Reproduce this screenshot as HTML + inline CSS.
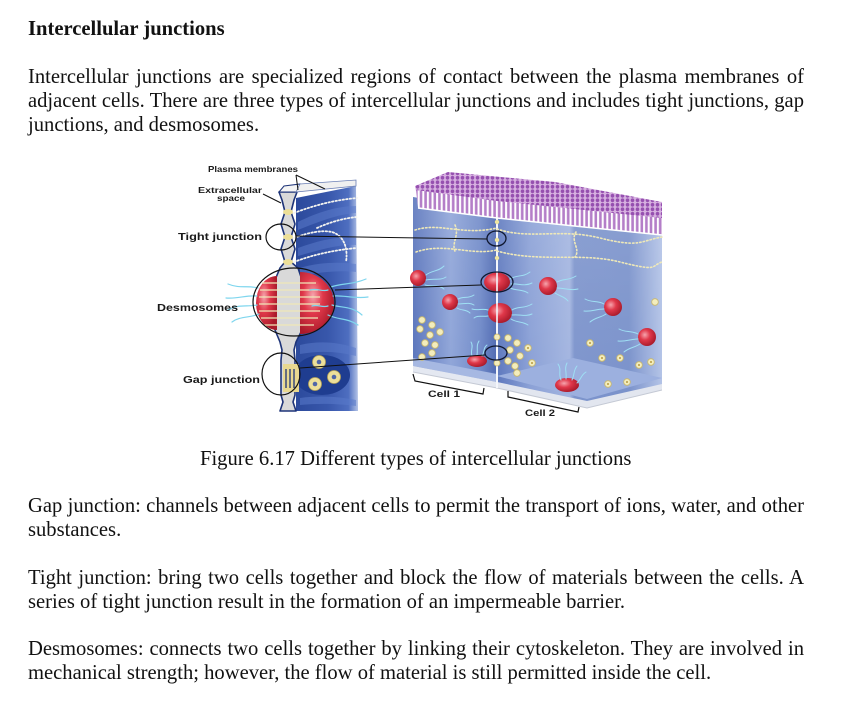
<!DOCTYPE html>
<html>
<head>
<meta charset="utf-8">
<style>
html,body{margin:0;padding:0;background:#fff;}
body{width:852px;height:705px;position:relative;overflow:hidden;font-family:"Liberation Serif","Times New Roman",serif;color:#111;}
.l{position:absolute;left:28px;width:776px;font-size:20.6px;line-height:24px;white-space:nowrap;}
.j{text-align:justify;text-align-last:justify;}
.h{font-weight:bold;}
svg{position:absolute;left:0;top:0;}
</style>
</head>
<body>
<div class="l h" style="top:17px">Intercellular junctions</div>
<div class="l j" style="top:65px">Intercellular junctions are specialized regions of contact between the plasma membranes of</div>
<div class="l j" style="top:89px">adjacent cells. There are three types of intercellular junctions and includes tight junctions, gap</div>
<div class="l" style="top:113px">junctions, and desmosomes.</div>

<div class="l" style="top:447px;left:200px;width:440px">Figure 6.17 Different types of intercellular junctions</div>

<div class="l j" style="top:494px">Gap junction: channels between adjacent cells to permit the transport of ions, water, and other</div>
<div class="l" style="top:518px">substances.</div>
<div class="l j" style="top:566px">Tight junction: bring two cells together and block the flow of materials between the cells. A</div>
<div class="l" style="top:590px">series of tight junction result in the formation of an impermeable barrier.</div>
<div class="l j" style="top:637px">Desmosomes: connects two cells together by linking their cytoskeleton. They are involved in</div>
<div class="l" style="top:661px">mechanical strength; however, the flow of material is still permitted inside the cell.</div>

<svg width="852" height="705" viewBox="0 0 852 705" xmlns="http://www.w3.org/2000/svg">
<defs>
  <linearGradient id="c1" x1="413" y1="0" x2="497" y2="0" gradientUnits="userSpaceOnUse">
    <stop offset="0" stop-color="#5873bb"/>
    <stop offset="0.45" stop-color="#8ea4d8"/>
    <stop offset="0.8" stop-color="#6f89c8"/>
    <stop offset="1" stop-color="#4c67b0"/>
  </linearGradient>
  <linearGradient id="c2" x1="497" y1="0" x2="662" y2="0" gradientUnits="userSpaceOnUse">
    <stop offset="0" stop-color="#5c77bd"/>
    <stop offset="0.2" stop-color="#8aa0d6"/>
    <stop offset="0.44" stop-color="#a3b5e0"/>
    <stop offset="0.47" stop-color="#7d94cc"/>
    <stop offset="0.8" stop-color="#7a92cb"/>
    <stop offset="1" stop-color="#b3c3e7"/>
  </linearGradient>
  <linearGradient id="vfade" x1="0" y1="200" x2="0" y2="400" gradientUnits="userSpaceOnUse">
    <stop offset="0" stop-color="#ffffff" stop-opacity="0.12"/>
    <stop offset="1" stop-color="#ffffff" stop-opacity="0"/>
  </linearGradient>
  <linearGradient id="slab" x1="296" y1="0" x2="360" y2="0" gradientUnits="userSpaceOnUse">
    <stop offset="0" stop-color="#2c4a9c"/>
    <stop offset="0.5" stop-color="#3857ab"/>
    <stop offset="0.82" stop-color="#4e6ec0"/>
    <stop offset="1" stop-color="#c9d5ef"/>
  </linearGradient>
  <radialGradient id="red" cx="0.38" cy="0.38" r="0.65">
    <stop offset="0" stop-color="#f6a4ad"/>
    <stop offset="0.45" stop-color="#e0384a"/>
    <stop offset="1" stop-color="#a91a2a"/>
  </radialGradient>
  <pattern id="villi" x="0" y="0" width="4.6" height="10" patternUnits="userSpaceOnUse">
    <rect width="4.6" height="10" fill="#ffffff"/>
    <rect x="1.1" width="2.6" height="10" fill="#b47ec8"/>
  </pattern>
  <pattern id="tops" x="0" y="0" width="5" height="4.5" patternUnits="userSpaceOnUse">
    <rect width="5" height="4.5" fill="#d6b0e0"/>
    <ellipse cx="2.5" cy="2.3" rx="1.8" ry="1.9" fill="#9650b0"/>
  </pattern>
</defs>

<!-- ========== RIGHT BLOCK ========== -->
<polygon points="413,197 497,211 497,386 413,366" fill="url(#c1)"/>
<polygon points="497,211 662,221 662,388 587,406 497,386" fill="url(#c2)"/>
<polygon points="413,197 497,211 662,221 662,388 587,406 497,386 413,366" fill="url(#vfade)"/>
<polygon points="413,358 497,374 497,382 413,366" fill="#a6b8e2"/>
<polygon points="497,376 573,358 662,378 587,399" fill="#9cb0df"/>
<polygon points="413,366 497,382 497,388 413,372" fill="#e4e8f1"/>
<polygon points="497,382 587,401 662,384 662,390 587,408 497,388" fill="#e2e6ef"/>
<polyline points="413,372 497,388 587,408 662,390" fill="none" stroke="#c4c9d4" stroke-width="1"/>
<line x1="497" y1="212" x2="497" y2="388" stroke="#f4f6fb" stroke-width="2"/>
<!-- top purple face -->
<polygon points="415,186 448,172 555,182 662,202 662,219 497,202 416,191" fill="url(#tops)"/>
<!-- microvilli -->
<polygon points="416,190 497,201 662,218 662,235 497,218 418,208" fill="url(#villi)"/>
<polyline points="418,208 497,218 662,235" fill="none" stroke="#ffffff" stroke-width="1.5"/>

<g fill="none" stroke="#efe9b8" stroke-width="1.6" stroke-dasharray="1.4 2.2" stroke-linecap="round">
  <path d="M415,230 C440,222 462,236 497,228"/>
  <path d="M416,252 C445,242 470,256 497,250"/>
  <path d="M455,225 C460,236 450,244 456,253"/>
  <path d="M497,229 C530,240 560,228 600,238 S640,241 662,237"/>
  <path d="M497,251 C540,263 580,252 620,262 S650,266 662,262"/>
  <path d="M576,232 C570,241 581,249 575,257"/>
</g>

<g>
  <circle cx="418" cy="278" r="8" fill="url(#red)"/>
  <circle cx="450" cy="302" r="8" fill="url(#red)"/>
  <circle cx="548" cy="286" r="9" fill="url(#red)"/>
  <circle cx="613" cy="307" r="9" fill="url(#red)"/>
  <circle cx="647" cy="337" r="9" fill="url(#red)"/>
  <ellipse cx="477" cy="361" rx="10" ry="6" fill="url(#red)"/>
  <ellipse cx="567" cy="385" rx="12" ry="7" fill="url(#red)"/>
  <ellipse cx="497" cy="282" rx="13" ry="9.5" fill="url(#red)"/>
  <ellipse cx="500" cy="313" rx="12" ry="10" fill="url(#red)"/>
</g>
<line x1="497" y1="272" x2="497" y2="324" stroke="#f4f6fb" stroke-width="1.6"/>
<g fill="none" stroke="#9fe0f4" stroke-width="1" stroke-linecap="round">
  <path d="M426,275 C432,270 438,272 444,266"/><path d="M426,280 C434,278 440,281 446,277"/><path d="M425,285 C433,287 438,284 444,289"/>
  <path d="M458,299 C464,296 468,299 474,295"/><path d="M458,304 C464,304 469,302 474,305"/><path d="M457,308 C462,311 466,309 470,313"/>
  <path d="M510,279 C518,274 522,278 530,272"/><path d="M511,284 C518,283 524,287 532,283"/><path d="M510,288 C517,291 522,289 528,293"/>
  <path d="M512,310 C518,306 524,309 532,304"/><path d="M512,315 C520,314 525,317 532,314"/><path d="M511,319 C517,323 522,321 528,325"/>
  <path d="M488,310 C482,308 478,311 472,309"/><path d="M488,316 C482,317 478,315 474,318"/>
  <path d="M557,282 C564,278 568,281 576,276"/><path d="M557,288 C565,288 570,291 578,289"/><path d="M555,293 C561,297 564,296 568,301"/>
  <path d="M604,304 C597,300 592,303 585,299"/><path d="M604,309 C596,309 592,312 584,311"/><path d="M606,314 C600,318 596,317 590,322"/>
  <path d="M638,334 C631,330 626,333 619,329"/><path d="M638,339 C630,339 626,342 618,341"/><path d="M640,344 C634,348 630,347 624,352"/>
  <path d="M472,356 C470,350 474,347 471,342"/><path d="M477,355 C478,349 476,346 479,341"/><path d="M482,356 C485,351 483,348 487,345"/>
  <path d="M561,380 C558,373 562,370 558,364"/><path d="M566,379 C567,372 564,369 567,363"/><path d="M572,380 C575,374 573,371 577,366"/><path d="M577,383 C582,378 581,375 586,372"/>
</g>
<g fill="#efe6a0">
  <circle cx="497" cy="222" r="2.2"/><circle cx="497" cy="240" r="2.2"/><circle cx="497" cy="258" r="2.2"/>
</g>
<g fill="#f3edbd" stroke="#cbb868" stroke-width="0.8">
  <circle cx="422" cy="320" r="3.3"/><circle cx="432" cy="325" r="3.3"/><circle cx="420" cy="329" r="3.3"/>
  <circle cx="430" cy="335" r="3.3"/><circle cx="440" cy="332" r="3.3"/><circle cx="425" cy="343" r="3.3"/>
  <circle cx="435" cy="345" r="3.3"/><circle cx="422" cy="357" r="3.3"/><circle cx="432" cy="353" r="3.3"/>
  <circle cx="508" cy="338" r="3.3"/><circle cx="517" cy="343" r="3.3"/><circle cx="510" cy="350" r="3.3"/>
  <circle cx="528" cy="348" r="3.3"/><circle cx="520" cy="356" r="3.3"/><circle cx="508" cy="361" r="3.3"/>
  <circle cx="515" cy="366" r="3.3"/><circle cx="532" cy="363" r="3.3"/><circle cx="517" cy="373" r="3.3"/>
  <circle cx="497" cy="337" r="3"/><circle cx="497" cy="363" r="3"/>
  <circle cx="590" cy="343" r="3.3"/><circle cx="602" cy="358" r="3.3"/><circle cx="620" cy="358" r="3.3"/>
  <circle cx="639" cy="365" r="3.3"/><circle cx="651" cy="362" r="3.3"/><circle cx="608" cy="384" r="3.3"/>
  <circle cx="627" cy="382" r="3.3"/><circle cx="655" cy="302" r="3.3"/>
</g>
<g fill="#b89a40">
  <circle cx="590" cy="343" r="1"/><circle cx="602" cy="358" r="1"/><circle cx="620" cy="358" r="1"/>
  <circle cx="639" cy="365" r="1"/><circle cx="651" cy="362" r="1"/><circle cx="608" cy="384" r="1"/>
  <circle cx="627" cy="382" r="1"/><circle cx="528" cy="348" r="1"/><circle cx="532" cy="363" r="1"/>
</g>
<g fill="none" stroke="#101830" stroke-width="1.3">
  <ellipse cx="496.5" cy="238.5" rx="9.5" ry="7.5"/>
  <ellipse cx="497" cy="282" rx="16" ry="10"/>
  <ellipse cx="496" cy="353" rx="11" ry="7"/>
</g>

<!-- ========== LEFT PANEL ========== -->
<polygon points="296,198 356,186 358,411 296,411" fill="url(#slab)"/>
<g fill="#5a7aca" opacity="0.55">
  <path d="M298,222 C318,212 338,206 356,206 L356,213 C338,214 318,222 298,230 Z"/>
  <path d="M298,248 C320,240 338,236 356,238 L356,245 C338,244 320,250 298,256 Z"/>
  <path d="M300,268 C320,262 340,262 356,264 L356,272 C340,270 320,272 300,276 Z"/>
  <path d="M300,345 C322,340 340,343 356,348 L356,356 C340,352 322,350 300,354 Z"/>
  <path d="M300,398 C322,395 340,397 356,400 L356,406 C340,404 322,403 300,405 Z"/>
</g>
<g fill="none" stroke="#f4f4f0" stroke-width="1.8" stroke-dasharray="1.5 2.1" stroke-linecap="round">
  <path d="M294,213 C315,205 335,200 357,198"/>
  <path d="M294,238 C310,232 322,230 332,232 C345,236 348,250 346,262"/>
  <path d="M317,228 C330,222 345,218 357,217"/>
  <path d="M294,262 C312,255 334,250 357,248"/>
</g>
<ellipse cx="322" cy="375" rx="28" ry="20" fill="#1f3d90"/>
<path d="M279,192 L282,200 L285,212 L281,224 L285,237 L281,249 L285,262 L280,268 L275,280 L274,300 L275,330 L280,342 L282,350 L281,360 L281,395 L283,402 L280,411 L296,411 L293,402 L295,395 L295,360 L294,350 L296,342 L302,330 L303,300 L302,280 L298,268 L291,262 L295,249 L291,237 L295,224 L291,212 L294,200 L297,192 Z" fill="#d9d9d9" stroke="#1e3478" stroke-width="1.6" stroke-linejoin="round"/>
<polygon points="279,192 284,186 300,184 297,192" fill="#f4f4f4" stroke="#1e3478" stroke-width="1"/>
<polygon points="296,192 300,184 356,180 356,186" fill="#f0f0f0" stroke="#6b7fb5" stroke-width="0.8"/>
<g fill="#ecdf98">
  <ellipse cx="288" cy="212" rx="5" ry="3"/><ellipse cx="288" cy="237" rx="5" ry="3"/><ellipse cx="288" cy="262" rx="5" ry="3"/>
</g>
<path d="M277,276 A21,27 0 0 0 277,330 Z" fill="url(#red)"/>
<path d="M300,272 A34,31 0 0 1 300,334 Z" fill="url(#red)"/>
<g fill="none" stroke="#f0e8b8" stroke-width="1.2">
  <line x1="262" y1="283" x2="316" y2="283"/><line x1="260" y1="290" x2="318" y2="290"/>
  <line x1="259" y1="297" x2="320" y2="297"/><line x1="259" y1="304" x2="320" y2="304"/>
  <line x1="259" y1="311" x2="320" y2="311"/><line x1="261" y1="318" x2="318" y2="318"/>
  <line x1="264" y1="325" x2="314" y2="325"/>
</g>
<g fill="none" stroke="#7fd6ee" stroke-width="1.2" stroke-linecap="round">
  <path d="M258,288 C248,285 240,289 228,284"/><path d="M257,296 C246,295 238,299 226,298"/>
  <path d="M257,305 C246,307 238,304 228,310"/><path d="M259,314 C250,318 240,316 232,322"/>
  <path d="M331,287 C342,283 352,285 366,279"/><path d="M333,296 C344,295 354,299 368,297"/>
  <path d="M332,305 C342,308 352,306 362,315"/><path d="M328,315 C338,320 348,318 358,325"/>
  <path d="M310,290 C318,288 322,292 328,290"/><path d="M312,306 C318,304 322,308 328,306"/>
</g>
<rect x="283" y="364" width="16" height="28" fill="#e8d890"/>
<g stroke="#1e3478" stroke-width="1.3">
  <line x1="286" y1="369" x2="286" y2="388"/><line x1="290" y1="369" x2="290" y2="388"/><line x1="294" y1="369" x2="294" y2="388"/>
</g>
<g fill="#ecdf9a" stroke="#b8a458" stroke-width="0.8">
  <circle cx="319" cy="362" r="6.5"/><circle cx="315" cy="384" r="6.5"/><circle cx="334" cy="377" r="6.5"/>
</g>
<g fill="#5066a8">
  <circle cx="319" cy="362" r="2.3"/><circle cx="315" cy="384" r="2.3"/><circle cx="334" cy="377" r="2.3"/>
</g>
<g fill="none" stroke="#111" stroke-width="1.2">
  <ellipse cx="281" cy="237" rx="15" ry="13"/>
  <ellipse cx="294" cy="302" rx="41" ry="34"/>
  <ellipse cx="281" cy="374" rx="19" ry="21"/>
</g>

<g stroke="#111" stroke-width="1" fill="none">
  <line x1="296" y1="236" x2="487" y2="239"/>
  <line x1="335" y1="290" x2="481" y2="285"/>
  <line x1="300" y1="368" x2="485" y2="355"/>
  <line x1="296" y1="175" x2="298" y2="190"/>
  <line x1="296" y1="175" x2="325" y2="189"/>
  <line x1="263" y1="194" x2="281" y2="203"/>
  <polyline points="413,374 415,381 483,394 484,388" stroke-width="1.2"/>
  <polyline points="508,391 508,397 578,412 579,407" stroke-width="1.2"/>
</g>

<g font-family="Liberation Sans, Arial, sans-serif" font-weight="bold" fill="#1a1a1a">
  <text x="208" y="172" font-size="8.5" textLength="90" lengthAdjust="spacingAndGlyphs">Plasma membranes</text>
  <text x="198" y="193" font-size="8" textLength="64" lengthAdjust="spacingAndGlyphs">Extracellular</text>
  <text x="217" y="201" font-size="8" textLength="28" lengthAdjust="spacingAndGlyphs">space</text>
  <text x="178" y="240" font-size="10.5" textLength="84" lengthAdjust="spacingAndGlyphs">Tight junction</text>
  <text x="157" y="311" font-size="10.5" textLength="81" lengthAdjust="spacingAndGlyphs">Desmosomes</text>
  <text x="183" y="383" font-size="10.5" textLength="77" lengthAdjust="spacingAndGlyphs">Gap junction</text>
  <text x="428" y="397" font-size="9.5" textLength="32" lengthAdjust="spacingAndGlyphs">Cell 1</text>
  <text x="525" y="416" font-size="9.5" textLength="30" lengthAdjust="spacingAndGlyphs">Cell 2</text>
</g>
</svg>
</body>
</html>
